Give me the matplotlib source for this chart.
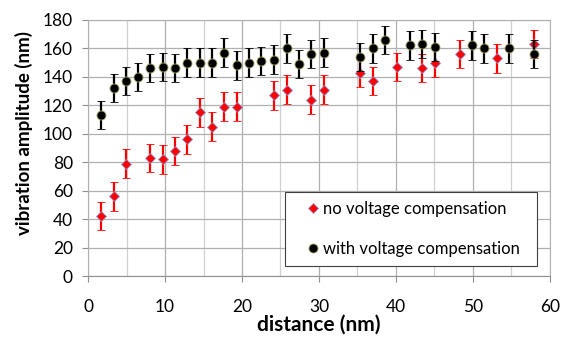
import matplotlib
matplotlib.use("Agg")
import matplotlib.pyplot as plt
from matplotlib.ticker import MultipleLocator

# no voltage compensation (red)
x_red = [1.7, 3.3, 4.9, 8.0, 9.7, 11.3, 12.9, 14.5, 16.1, 17.7, 19.3, 24.1, 25.8,
         29.0, 30.6, 35.4, 37.0, 40.2, 43.4, 45.1, 48.3, 53.1, 57.9]
y_red = [42, 56, 79, 83, 82, 88, 96, 115, 105, 119, 119, 127, 131,
         124, 131, 143, 137, 147, 146, 150, 156, 153, 163]
err_red = [10] * len(x_red)

# with voltage compensation (black)
x_blk = [1.7, 3.3, 4.9, 6.5, 8.0, 9.7, 11.3, 12.9, 14.5, 16.1, 17.7, 19.3, 20.9,
         22.5, 24.1, 25.8, 27.4, 29.0, 30.6, 35.4, 37.0, 38.6, 41.9, 43.4, 45.1,
         49.9, 51.4, 54.7, 57.9]
y_blk = [113, 132, 137, 140, 146, 147, 146, 150, 150, 150, 157, 148, 150,
         151, 152, 160, 149, 156, 157, 154, 160, 166, 162, 163, 161,
         162, 160, 160, 156]
err_blk = [10] * len(x_blk)

plt.rcParams['font.family'] = ['Lato', 'DejaVu Sans']

fig = plt.figure(figsize=(5.65, 3.37), dpi=100)
ax = fig.add_axes([0.156, 0.181, 0.817, 0.760])

ax.errorbar(x_red, y_red, yerr=err_red, fmt='D', color='red', ms=5.5,
            mec='#9090c8', mew=0.6, ecolor='red', elinewidth=1.6,
            capsize=3, capthick=1.6, label='no voltage compensation', zorder=3)
ax.errorbar(x_blk, y_blk, yerr=err_blk, fmt='o', color='black', ms=6.5,
            mec='#a0a060', mew=0.6, ecolor='black', elinewidth=1.6,
            capsize=3, capthick=1.6, label='with voltage compensation', zorder=4)

ax.set_xlim(0, 60)
ax.set_ylim(0, 180)
ax.xaxis.set_major_locator(MultipleLocator(10))
ax.xaxis.set_minor_locator(MultipleLocator(5))
ax.yaxis.set_major_locator(MultipleLocator(20))
ax.grid(True, which='major', color='#b0b0b0', lw=0.9)
ax.grid(True, which='minor', axis='x', color='#d0d0d0', lw=0.9)
ax.set_axisbelow(True)

for s in ['top', 'right', 'left']:
    ax.spines[s].set_color('#b0b0b0')
ax.spines['bottom'].set_color('#909090')
ax.tick_params(which='major', length=4, color='#909090', labelsize=12.5)
ax.tick_params(axis='x', which='major', pad=12.5)
ax.tick_params(axis='y', which='major', pad=7)
ax.tick_params(axis='x', which='minor', length=0)

ax.set_xlabel('distance (nm)', fontsize=15, fontweight='bold')
ax.xaxis.set_label_coords(0.5, -0.152)
ax.set_ylabel('vibration amplitude (nm)', fontsize=13.5, fontweight='bold')
ax.yaxis.set_label_coords(-0.119, 0.56)

handles, labels = ax.get_legend_handles_labels()
handles = [h[0] for h in handles]
leg = ax.legend(handles, labels, loc='upper left', mode='expand',
                bbox_to_anchor=(0.4268, 0.0312, 0.5459, 0.297),
                frameon=True, fancybox=False, fontsize=12, labelspacing=1.45,
                handletextpad=-0.48, handlelength=2.2, borderpad=0.55, borderaxespad=0)
leg.get_frame().set_edgecolor('#404040')
leg.get_frame().set_linewidth(0.8)
leg.get_frame().set_alpha(1)

fig.savefig('out.png', dpi=100)
